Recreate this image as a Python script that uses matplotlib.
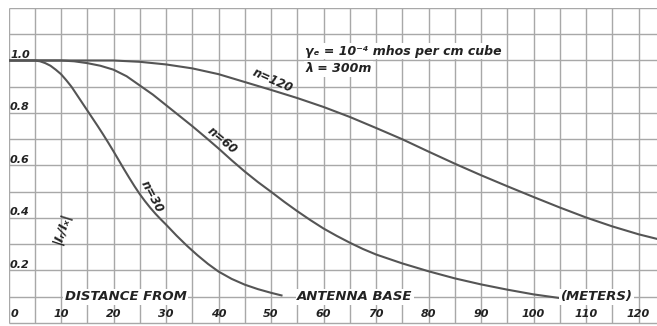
import matplotlib
matplotlib.use("Agg")
import matplotlib.pyplot as plt
import numpy as np

# ---- data ----
x_n30 = [0, 5, 6, 7, 8, 9, 10, 11, 12, 13, 14, 15, 16, 17, 18, 19, 20, 21, 22, 23, 24, 25,
         26, 27, 28, 29, 30, 32, 34, 36, 38, 40, 42.5, 45, 47.5, 50, 52]
y_n30 = [1.0, 1.0, 0.997, 0.99, 0.98, 0.965, 0.948, 0.925, 0.90, 0.87, 0.84, 0.81, 0.78, 0.75,
         0.719, 0.687, 0.654, 0.62, 0.586, 0.553, 0.521, 0.491, 0.464, 0.439, 0.416, 0.395, 0.375,
         0.333, 0.294, 0.258, 0.225, 0.196, 0.168, 0.146, 0.129, 0.115, 0.105]

x_n60 = [0, 10, 12.5, 15, 17.5, 20, 22.5, 25, 27.5, 30, 32.5, 35, 37.5, 40, 42.5, 45, 47.5, 50,
         52.5, 55, 57.5, 60, 62.5, 65, 67.5, 70, 75, 80, 85, 90, 95, 100, 105]
y_n60 = [1.0, 1.0, 0.997, 0.99, 0.98, 0.965, 0.94, 0.905, 0.87, 0.83, 0.79, 0.75, 0.708, 0.665,
         0.62, 0.577, 0.537, 0.50, 0.462, 0.426, 0.392, 0.36, 0.332, 0.306, 0.282, 0.261, 0.227,
         0.197, 0.17, 0.147, 0.127, 0.109, 0.095]

x_n120 = [0, 20, 25, 30, 35, 40, 45, 50, 55, 60, 65, 70, 75, 80, 85, 90, 95, 100, 105, 110, 115,
          120, 123.6]
y_n120 = [1.0, 1.0, 0.995, 0.985, 0.97, 0.948, 0.918, 0.888, 0.857, 0.823, 0.785, 0.743, 0.70,
          0.653, 0.607, 0.563, 0.521, 0.48, 0.44, 0.402, 0.368, 0.338, 0.32]

x_ticks = [10, 20, 30, 40, 50, 60, 70, 80, 90, 100, 110, 120]
x_tick_labels = ["10", "20", "30", "40", "50", "60", "70", "80", "90", "100", "110", "120"]
y_ticks = [1.0, 0.8, 0.6, 0.4, 0.2]
y_tick_labels = ["1.0", "0.8", "0.6", "0.4", "0.2"]

curve_labels = ["n=30", "n=60", "n=120"]

# ---- figure ----
W, H = 657, 326
fig = plt.figure(figsize=(W / 100, H / 100), dpi=100)
fig.patch.set_facecolor("white")
ax = fig.add_axes([8.5 / W, 0, (W - 8.5) / W, (H - 8) / H])
XMAX = (W - 8.5) / 5.25
ax.set_xlim(0, XMAX)
ax.set_ylim(-0.0115, 1.2)
ax.axis("off")

gridc = "#a8a8a8"
for gx in np.arange(0, XMAX, 5):
    ax.plot([gx, gx], [0, 1.2], color=gridc, lw=1.0, zorder=1, solid_capstyle="butt")
for gy in np.arange(0, 1.21, 0.1):
    ax.plot([0, XMAX], [gy, gy], color=gridc, lw=1.0, zorder=1, solid_capstyle="butt")

curvec = "#555555"
for xs, ys in [(x_n30, y_n30), (x_n60, y_n60), (x_n120, y_n120)]:
    ax.plot(xs, ys, color=curvec, lw=1.5, zorder=3, solid_joinstyle="round")

fkw = dict(family="DejaVu Sans", style="italic", weight="bold", color="#222222")

# tick labels
for v, t in zip(y_ticks, y_tick_labels):
    ax.text(0.3, v + 0.022, t, ha="left", va="center", fontsize=8, zorder=5, **fkw)
ax.text(1.2, 0.033, "0", ha="center", va="center", fontsize=8, zorder=5, **fkw)
for v, t in zip(x_ticks, x_tick_labels):
    ax.text(v, 0.033, t, ha="center", va="center", fontsize=8, zorder=5, **fkw)

box = dict(facecolor="white", edgecolor="none", pad=1.0)
ax.text(10.7, 0.1, "DISTANCE FROM", ha="left", va="center", fontsize=9.5, bbox=box, zorder=5, **fkw)
ax.text(55, 0.1, "ANTENNA BASE", ha="left", va="center", fontsize=9.5, bbox=box, zorder=5, **fkw)
ax.text(105.2, 0.1, "(METERS)", ha="left", va="center", fontsize=9.5, bbox=box, zorder=5, **fkw)

# curve labels
ax.text(27.3, 0.48, curve_labels[0], rotation=-62, ha="center", va="center", fontsize=8.5, zorder=5, **fkw)
ax.text(40.7, 0.695, curve_labels[1], rotation=-40, ha="center", va="center", fontsize=8.5, zorder=5, **fkw)
ax.text(50.3, 0.925, curve_labels[2], rotation=-24, ha="center", va="center", fontsize=8.5, zorder=5, **fkw)

# parameters
ax.text(56.5, 1.035, "\u03b3\u2091 = 10\u207b\u2074 mhos per cm cube", ha="left", va="center",
        fontsize=9, bbox=box, zorder=5, **fkw)
ax.text(56.5, 0.968, "\u03bb = 300m", ha="left", va="center",
        fontsize=9, bbox=box, zorder=5, **fkw)

# y axis label
ax.text(10.2, 0.36, "|I\u1d63/I\u2093|", rotation=72, ha="center", va="center", fontsize=9, zorder=5, **fkw)

fig.savefig("out.png", dpi=100, facecolor="white")
